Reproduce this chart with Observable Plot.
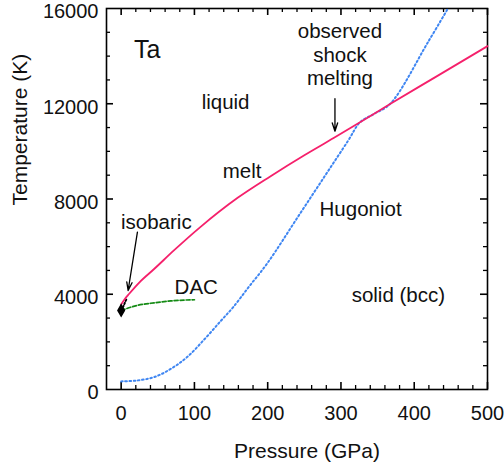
<!DOCTYPE html>
<html>
<head>
<meta charset="utf-8">
<script src="https://cdn.jsdelivr.net/npm/d3@7"></script>
<script src="https://cdn.jsdelivr.net/npm/@observablehq/plot@0.6"></script>
<style>
  html, body { margin: 0; padding: 0; background: #fff; }
</style>
</head>
<body>
<div id="chart"></div>
<script>
// ---- data ----
const meltP = [0, 5, 11, 25, 45, 72, 108, 159, 204, 250, 290, 326, 367, 430, 500];
const meltT = [3570, 3800, 4020, 4500, 5060, 5840, 6820, 8050, 8960, 9840, 10560, 11220, 11990, 13140, 14420];

const hugP = [0, 22, 45, 68, 90, 114, 136, 153, 175, 199, 244, 280, 310, 326, 345, 367, 419, 446];
const hugT = [340, 380, 520, 870, 1360, 2120, 2880, 3460, 4340, 5280, 7380, 9060, 10460, 11220, 11570, 11990, 14600, 16000];

const dacP = [0, 22, 45, 68, 100];
const dacT = [3320, 3530, 3640, 3720, 3770];

const isoP = [0, 3, 7];
const isoT = [3320, 3490, 3780];

const ambientP = [0];
const ambientT = [3320];

const labelText = ["liquid", "melt", "isobaric", "DAC", "Hugoniot", "solid (bcc)", "observed", "shock", "melting"];
const labelP = [142.5, 165, 48, 102.5, 326.8, 378.3, 298.6, 298.6, 298.6];
const labelT = [11790, 8862, 6750, 4020, 7266, 3667, 14771, 13746, 12768];

const elementText = ["Ta"];
const elementP = [17.7];
const elementT = [13902];

const arrowP1 = [22.2, 291.8];
const arrowT1 = [6606, 12209];
const arrowP2 = [9.5, 291.8];
const arrowT2 = [4158, 10848];

const xTickLabels = [0, 100, 200, 300, 400, 500];
const yTickLabels = [0, 4000, 8000, 12000, 16000];
const xMinor = d3.range(0, 501, 20).filter(d => d % 100 !== 0);
const xMajor = [0, 100, 200, 300, 400, 500];
const yMinor = d3.range(1000, 16000, 1000).filter(d => d % 4000 !== 0);
const yMajor = [4000, 8000, 12000];

// ---- layout ----
const W = 504, H = 468, mL = 106, mR = 17, mT = 8, mB = 79;
const innerW = W - mL - mR, innerH = H - mT - mB;
const font = "'Liberation Sans', Arial, Helvetica, sans-serif";

const toRows = (xs, ys) => xs.map((x, i) => ({x, y: ys[i]}));
const melt = toRows(meltP, meltT);
const hug = toRows(hugP, hugT);
const dac = toRows(dacP, dacT);
const iso = toRows(isoP, isoT);
const ambient = toRows(ambientP, ambientT);
const labels = labelText.map((t, i) => ({t, x: labelP[i], y: labelT[i]}));
const element = elementText.map((t, i) => ({t, x: elementP[i], y: elementT[i]}));
const arrows = arrowP1.map((p, i) => ({x1: p, y1: arrowT1[i], x2: arrowP2[i], y2: arrowT2[i]}));

const chart = Plot.plot({
  width: W, height: H,
  marginLeft: mL, marginRight: mR, marginTop: mT, marginBottom: mB,
  style: {fontFamily: font, fontSize: "20px", background: "#fff", color: "#111"},
  x: {domain: [-20, 500]},
  y: {domain: [0, 16000]},
  marks: [
    // inward ticks on all four sides
    Plot.tickX(xMinor, {x: d => d, insetTop: innerH - 4, stroke: "black", strokeWidth: 1.3}),
    Plot.tickX(xMajor, {x: d => d, insetTop: innerH - 7, stroke: "black", strokeWidth: 1.6}),
    Plot.tickX(xMinor, {x: d => d, insetBottom: innerH - 4, stroke: "black", strokeWidth: 1.3}),
    Plot.tickX(xMajor, {x: d => d, insetBottom: innerH - 7, stroke: "black", strokeWidth: 1.6}),
    Plot.tickY(yMinor, {y: d => d, insetRight: innerW - 4, stroke: "black", strokeWidth: 1.3}),
    Plot.tickY(yMajor, {y: d => d, insetRight: innerW - 7, stroke: "black", strokeWidth: 1.6}),
    Plot.tickY(yMinor, {y: d => d, insetLeft: innerW - 4, stroke: "black", strokeWidth: 1.3}),
    Plot.tickY(yMajor, {y: d => d, insetLeft: innerW - 7, stroke: "black", strokeWidth: 1.6}),
    Plot.frame({stroke: "black", strokeWidth: 1.6}),
    Plot.axisX(xTickLabels, {tickSize: 0, tickPadding: 16, fontSize: 20, label: null, tickFormat: d => String(d)}),
    Plot.axisY(yTickLabels, {tickSize: 0, tickPadding: 8, dy: 3.5, fontSize: 20, label: null, tickFormat: d => String(d)}),
    Plot.text(["Pressure (GPa)"], {text: d => d, frameAnchor: "bottom", lineAnchor: "bottom", dy: 68, dx: 10, fontSize: 21}),
    Plot.text(["Temperature (K)"], {text: d => d, frameAnchor: "left", rotate: -90, lineAnchor: "bottom", dx: -80, dy: 6.5, fontSize: 21}),
    // curves
    Plot.line(hug, {x: "x", y: "y", stroke: "#3f86f2", strokeWidth: 2, strokeDasharray: "1.6,2.6", curve: "catmull-rom"}),
    Plot.line(dac, {x: "x", y: "y", stroke: "#138a13", strokeWidth: 1.7, strokeDasharray: "4,2", curve: "monotone-x"}),
    Plot.line(iso, {x: "x", y: "y", stroke: "black", strokeWidth: 2, strokeDasharray: "1.5,2"}),
    Plot.line(melt, {x: "x", y: "y", stroke: "#f5206b", strokeWidth: 1.8, curve: "monotone-x"}),
    Plot.dot(ambient, {x: "x", y: "y", symbol: "diamond", r: 3.4, fill: "black", stroke: "black"}),
    // annotations
    Plot.arrow(arrows, {x1: "x1", y1: "y1", x2: "x2", y2: "y2", stroke: "black", strokeWidth: 1.3, headLength: 10, headAngle: 36}),
    Plot.text(labels, {x: "x", y: "y", text: "t", textAnchor: "middle", lineAnchor: "bottom", fontSize: 20.5, fill: "#111"}),
    Plot.text(element, {x: "x", y: "y", text: "t", textAnchor: "start", lineAnchor: "bottom", fontSize: 25, fill: "#111"})
  ]
});
document.getElementById("chart").appendChild(chart);
</script>
</body>
</html>
